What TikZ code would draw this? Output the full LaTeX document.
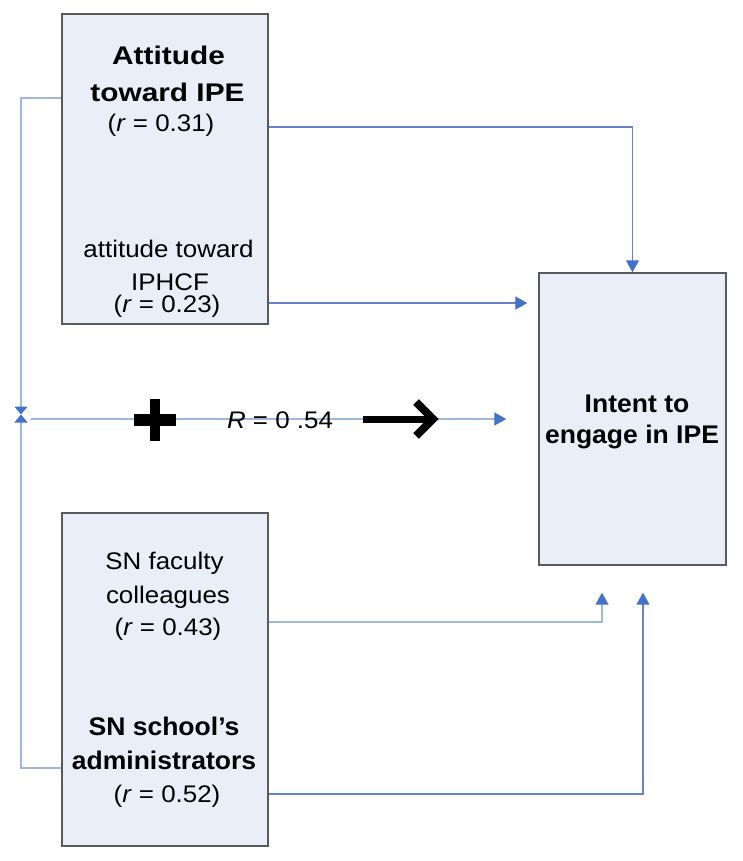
\documentclass[tikz,border=0pt]{standalone}
\usepackage{fontspec}
\setmainfont{Liberation Sans}[FakeStretch=1.08]
\newfontfamily\widebold{Liberation Sans}[FakeStretch=1.17]
\newfontfamily\softbold{Liberation Sans}[FakeStretch=1.04]
\usepackage{xcolor}
\usetikzlibrary{arrows.meta}

\definecolor{boxfill}{HTML}{E9EEF8}
\definecolor{boxline}{HTML}{5A5A5A}
\definecolor{palelink}{HTML}{9DB8DC}
\definecolor{darklink}{HTML}{6685BA}
\definecolor{tipblue}{HTML}{4472C4}

\tikzset{
  factor/.style={draw=boxline, fill=boxfill, line width=1.4pt, inner sep=0pt},
  plain/.style={anchor=base, inner sep=0pt, font=\fontsize{24}{30}\selectfont},
  heavy/.style={anchor=base, inner sep=0pt, font=\softbold\fontsize{25.5}{30}\bfseries\selectfont},
  heavier/.style={anchor=base, inner sep=0pt, font=\widebold\fontsize{25.5}{30}\bfseries\selectfont},
  link/.style={draw=darklink, line width=1.3pt, -{Triangle[length=12pt,width=13pt,color=tipblue]}},
  palink/.style={link, draw=palelink},
  meet/.style={draw=palelink, line width=1.3pt, -{Triangle[length=8pt,width=13pt,color=tipblue]}}
}

\begin{document}
\begin{tikzpicture}[x=1pt, y=-1pt]
      \useasboundingbox (0,0) rectangle (742,861);
      % boxes, centres and sizes in pixels of the sketch
      \node [factor, minimum width=206pt, minimum height=310pt] (attbox) at (165,169) {};
      \node [factor, minimum width=206pt, minimum height=333pt] (snbox) at (165,679.5) {};
      \node [factor, minimum width=187pt, minimum height=292pt] (intent) at (632.5,419) {};

      % texts of the upper box
      \node [heavier] (att1) at (168.5,65) {Attitude};
      \node [heavier] (att2) at (167.5,102) {toward IPE};
      \node [plain] (att3) at (161,132) {(\textit{r} = 0.31)};
      \node [plain] (iph1) at (168.5,257) {attitude toward};
      \node [plain] (iph2) at (170,290) {IPHCF};
      \node [plain] (iph3) at (167,312) {(\textit{r} = 0.23)};

      % texts of the lower box
      \node [plain] (fac1) at (164.5,569) {SN faculty};
      \node [plain] (fac2) at (168,603) {colleagues};
      \node [plain] (fac3) at (168,635) {(\textit{r} = 0.43)};
      \node [heavy] (adm1) at (164,735) {SN school’s};
      \node [heavy] (adm2) at (164,769) {administrators};
      \node [plain] (adm3) at (167,802) {(\textit{r} = 0.52)};

      % text of the outcome box
      \node [heavy] (int1) at (637,412) {Intent to};
      \node [heavy] (int2) at (632,443) {engage in IPE};

      % connectors
      \draw [link] (attbox.east |- 0,127) -| (intent.north);
      \draw [link, shorten >=11pt] (attbox.east |- 0,303) -- (intent.west |- 0,303);
      \draw [palink, shorten >=27pt] (snbox.east |- 0,622) -| ([xshift=-30.5pt]intent.south);
      \draw [link, shorten >=27pt] (snbox.east |- 0,794) -| ([xshift=10.5pt]intent.south);

      % bracket joining both boxes
      \coordinate (join) at (21,414.5);
      \coordinate (sumstart) at (31,419);
      \draw [meet] (attbox.west |- 0,98) -| (join);
      \draw [meet] (snbox.west |- 0,768) -| (join);
      \draw [link, draw=palelink, shorten >=32pt] (sumstart) -- (intent.west);

      % plus sign, multiple R and thick arrow
      \draw [line width=10.5pt] (155,399) -- (155,441);
      \draw [line width=12pt] (134,419.5) -- (176,419.5);
      \node [plain] (mult) at (280,428) {\textit{R} = 0 .54};
      \draw [line width=6.5pt] (363,419.5) -- (430,419.5);
      \draw [line width=8pt, line join=miter] (416,402) -- (433,419) -- (416,436);
\end{tikzpicture}
\end{document}
